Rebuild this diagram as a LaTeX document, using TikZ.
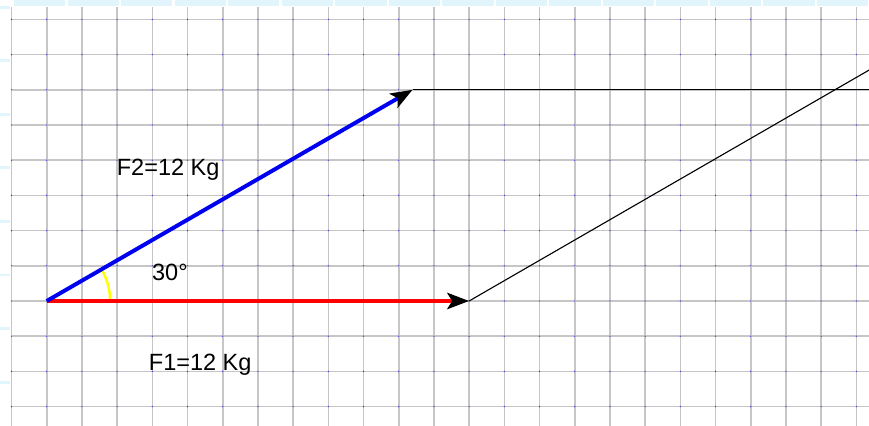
\documentclass[tikz,border=0pt]{standalone}
\usepackage{fontspec}
\setmainfont{Liberation Sans}
\usepackage{xcolor}
\usepackage{tikz}
\usetikzlibrary{arrows.meta,calc,positioning}
\definecolor{GridGray}{HTML}{C6C6C6}
\definecolor{GridDot}{HTML}{3030F0}
\definecolor{RulerBlue}{HTML}{E2F4FC}
\definecolor{ForceRed}{HTML}{FF0000}
\definecolor{ForceBlue}{HTML}{0000F0}
\definecolor{AngleYellow}{HTML}{FFFF00}
\tikzset{
    gridline/.style={GridGray, line width=1.3pt},
    forcevec/.style={line width=3.2pt, -{Stealth[black, length=0.62cm, width=0.46cm, inset=0.14cm]}},
    helperline/.style={black, line width=0.9pt},
    forcelabel/.style={font=\fontsize{19}{21}\selectfont, inner sep=0pt}
}

\begin{document}
\begin{tikzpicture}
        \useasboundingbox (-1.327,-3.523) rectangle (23.36,8.551);

        % ruler marks
        \foreach \k in {0,...,15}
            \fill[RulerBlue] ({-0.957+1.52*\k+0.03},8.381) rectangle ({-0.957+1.52*(\k+1)-0.03},8.551);
        \foreach \k in {0,...,7}
            \fill[RulerBlue] (-1.327,{8.381-1.52*\k}) rectangle (-1.043,{8.381-1.52*\k-0.085});

        % grid
        \foreach \x in {-1,...,23}
            \draw[gridline] (\x,-3.6) -- (\x,8.35);
        \foreach \y in {-3,...,8}
            \draw[gridline] (-1,\y) -- (23.4,\y);
        \foreach \x in {-1,...,23}
            \foreach \y in {-3,...,8}
                \fill[GridDot] (\x,\y) circle (0.55pt);

        \coordinate (O) at (0,0);
        \coordinate (A) at (12,0);
        \coordinate (B) at (30:12);
        \coordinate (Bend) at (23.4,6);
        \coordinate (Aend) at ($(A)+(30:13.2)$);

        % parallelogram helpers
        \draw[helperline] (B) -- (Bend);
        \draw[helperline] (A) -- (Aend);

        % angle
        \draw[AngleYellow, line width=2pt] (1.8,0) arc[start angle=0, end angle=30, radius=1.8];

        % forces
        \draw[forcevec, ForceRed] (O) -- (A);
        \draw[forcevec, ForceBlue] (O) -- (B);

        \node[forcelabel] (f2) at (3.45,3.72) {F2=12 Kg};
        \node[forcelabel] (ang) at (3.5,0.8) {30°};
        \node[forcelabel] (f1) at (4.36,-1.82) {F1=12 Kg};
    \end{tikzpicture}
\end{document}
